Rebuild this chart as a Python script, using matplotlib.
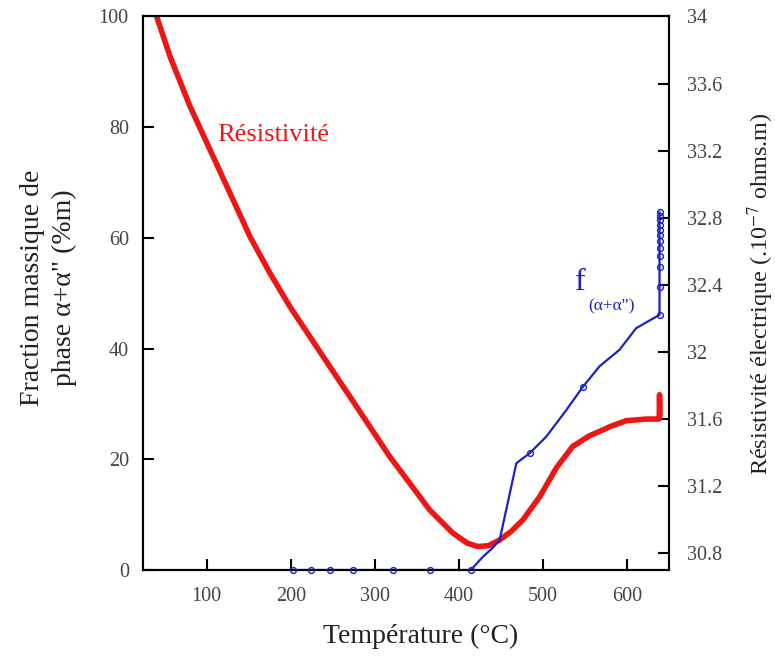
import numpy as np
import matplotlib
matplotlib.use('Agg')
import matplotlib.pyplot as plt
from matplotlib.ticker import FuncFormatter

plt.rcParams['font.family'] = ['Liberation Serif', 'DejaVu Serif']
plt.rcParams['mathtext.fontset'] = 'stix'

# resistivity curve (right axis)
temp_res = [40.6, 56.4, 80.2, 104.0, 127.7, 151.4, 175.2, 198.9, 222.7, 246.4,
            270.2, 293.9, 317.7, 341.4, 365.2, 392.5, 410.0, 422.6, 435.0, 448.3,
            462.0, 476.0, 496.1, 515.9, 535.0, 555.0, 567.0, 580.0, 598.8, 622.6,
            636.0, 638.0, 638.4, 639.0]
resist = [34.0, 33.763, 33.465, 33.206, 32.948, 32.689, 32.471, 32.271, 32.092, 31.913,
          31.735, 31.556, 31.376, 31.218, 31.058, 30.921, 30.860, 30.840, 30.845, 30.879,
          30.930, 30.999, 31.138, 31.310, 31.436, 31.500, 31.526, 31.556, 31.590, 31.600,
          31.600, 31.600, 31.745, 31.620]

# phase fraction (left axis)
temp_frac = [203, 414, 428.5, 440.0, 448.3, 468.2, 484.0, 503.8, 527.6, 547.3,
             567.1, 590.9, 610.7, 638.4, 638.4]
frac = [0, 0, 2.4, 4.0, 5.4, 19.3, 21.1, 24.1, 28.9, 33.1,
        36.8, 39.8, 43.7, 46.1, 64.6]

# measured points (open circles)
temp_pts = [203, 224, 247, 274, 321, 366, 414, 484.0, 547.3,
            638.4, 638.4, 638.4, 638.4, 638.4, 638.4, 638.4, 638.4, 638.4, 638.4, 638.4, 638.4]
frac_pts = [0, 0, 0, 0, 0, 0, 0, 21.1, 33.1,
            46.1, 51.2, 54.8, 56.8, 58.2, 59.5, 60.6, 61.5, 62.4, 63.2, 64.0, 64.6]

xticks = [100, 200, 300, 400, 500, 600]
yticks_left = [0, 20, 40, 60, 80, 100]
yticks_right = [30.8, 31.2, 31.6, 32.0, 32.4, 32.8, 33.2, 33.6, 34.0]

red = '#ee1515'
blue = '#1c22c0'
tick_col = '#444444'
lab_col = '#222222'

fig = plt.figure(figsize=(7.75, 6.57), dpi=100)
ax1 = fig.add_axes([0.1841, 0.1324, 0.6795, 0.8425])
ax2 = ax1.twinx()

ax2.plot(temp_res, resist, color=red, lw=4.0, solid_capstyle='round', solid_joinstyle='round')

ax1.plot(temp_frac, frac, color=blue, lw=1.6, zorder=2)
ax1.plot(temp_pts, frac_pts, ls='none', marker='o', ms=4.2, mfc='none', mec=blue, mew=1.0,
         clip_on=False, zorder=3)

# put the blue axes on top of the red one
ax1.set_zorder(ax2.get_zorder() + 1)
ax1.patch.set_visible(False)

ax1.set_xlim(24, 650)
ax1.set_ylim(0, 100)
ax2.set_ylim(30.7, 34.0)

ax1.set_xticks(xticks)
ax1.set_yticks(yticks_left)
ax2.set_yticks(yticks_right)
ax2.yaxis.set_major_formatter(FuncFormatter(lambda v, p: f'{round(v, 1):g}'))

for ax in (ax1, ax2):
    for s in ax.spines.values():
        s.set_linewidth(1.5)
        s.set_color('black')

ax1.tick_params(axis='both', direction='in', length=8, width=1.5, labelsize=14.5,
                labelcolor=tick_col, top=False, right=False)
ax1.tick_params(axis='x', pad=12)
ax1.tick_params(axis='y', pad=10)
ax2.tick_params(axis='y', direction='in', length=8, width=1.5, labelsize=14.5,
                labelcolor=tick_col, pad=13)

ax1.set_xlabel('Température (°C)', fontsize=20, color=lab_col)
ax1.xaxis.set_label_coords(0.528, -0.097)
ax1.set_ylabel('Fraction massique de\nphase α+α" (%m)', fontsize=20, color=lab_col,
               linespacing=1.35)
ax1.yaxis.set_label_coords(-0.125, 0.51)
ax2.set_ylabel('Résistivité électrique (.10$^{-7}$ ohms.m)', fontsize=17.5, color=lab_col)
ax2.yaxis.set_label_coords(1.145, 0.5)

ax1.text(112.6, 78.5, 'Résistivité', color=red, fontsize=19, ha='left', va='center')
ax1.text(538.5, 51.9, 'f', color=blue, fontsize=23, ha='left', va='center')
ax1.text(553.9, 47.6, '(α+α")', color=blue, fontsize=12.5, ha='left', va='center')

fig.savefig('out.png', dpi=100, facecolor='white')
